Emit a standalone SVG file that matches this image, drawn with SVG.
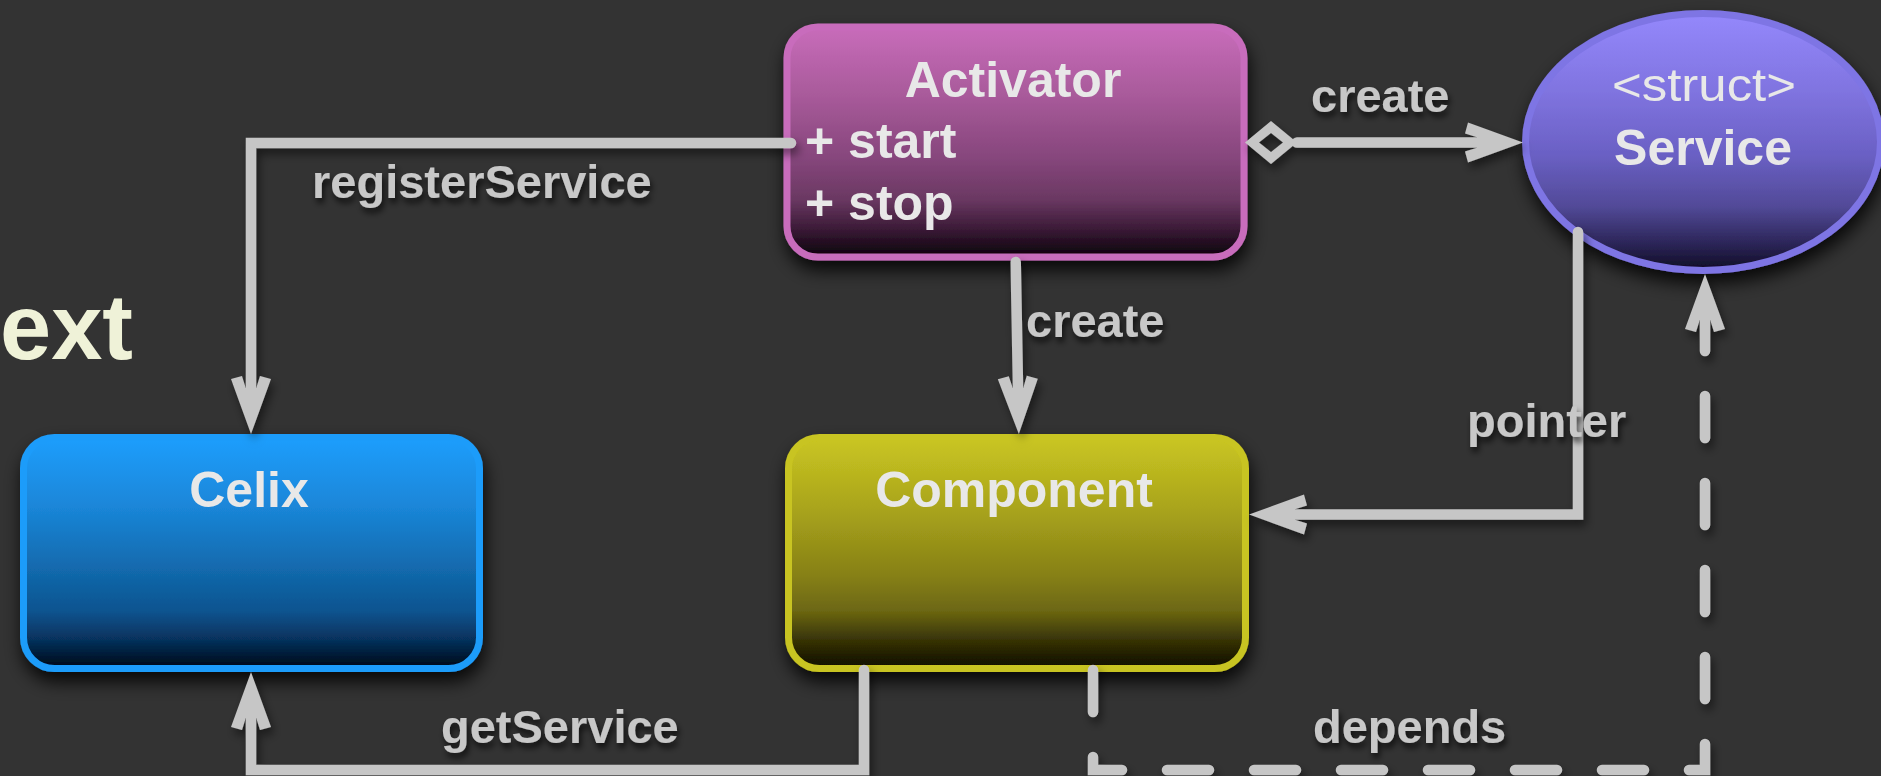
<svg xmlns="http://www.w3.org/2000/svg" width="1881" height="776" viewBox="0 0 1881 776">
<defs>
<style>
.t{font-family:"Liberation Sans",Arial,Helvetica,sans-serif;font-weight:bold;font-size:50px;fill:#e8e8e8;text-anchor:middle}
.m{font-family:"Liberation Sans",Arial,Helvetica,sans-serif;font-weight:bold;font-size:50px;fill:#e8e8e8}
.l{font-family:"Liberation Sans",Arial,Helvetica,sans-serif;font-weight:bold;font-size:47px;fill:#c8c8c8;filter:url(#textShadow)}
.c{fill:none;stroke:#c6c6c6;stroke-width:10.5;stroke-linecap:round;stroke-linejoin:miter}
.node{stroke-width:7}
</style>
<linearGradient id="gAct" x1="0" y1="0" x2="0" y2="1">
<stop offset="0" stop-color="#c86cba"/>
<stop offset="0.3" stop-color="#a85a9a"/>
<stop offset="0.57" stop-color="#86467c"/>
<stop offset="0.75" stop-color="#6a3862"/>
<stop offset="0.88" stop-color="#3a1a36"/>
<stop offset="1" stop-color="#0a000a"/>
</linearGradient>
<linearGradient id="gCel" x1="0" y1="0" x2="0" y2="1">
<stop offset="0" stop-color="#1f9efd"/>
<stop offset="0.3" stop-color="#1a86d8"/>
<stop offset="0.6" stop-color="#1166a8"/>
<stop offset="0.75" stop-color="#0d5490"/>
<stop offset="0.88" stop-color="#06305a"/>
<stop offset="1" stop-color="#000814"/>
</linearGradient>
<linearGradient id="gCom" x1="0" y1="0" x2="0" y2="1">
<stop offset="0" stop-color="#cac622"/>
<stop offset="0.3" stop-color="#aaa51c"/>
<stop offset="0.6" stop-color="#868016"/>
<stop offset="0.75" stop-color="#6c6712"/>
<stop offset="0.88" stop-color="#363206"/>
<stop offset="1" stop-color="#0e0c00"/>
</linearGradient>
<linearGradient id="gSrv" x1="0" y1="0" x2="0" y2="1">
<stop offset="0" stop-color="#9488fc"/>
<stop offset="0.3" stop-color="#8074e0"/>
<stop offset="0.55" stop-color="#6a60c4"/>
<stop offset="0.75" stop-color="#524a98"/>
<stop offset="0.9" stop-color="#2a2456"/>
<stop offset="1" stop-color="#100c24"/>
</linearGradient>
<filter id="nodeShadow" x="-15%" y="-15%" width="135%" height="145%">
<feDropShadow dx="2" dy="10" stdDeviation="9" flood-color="#000" flood-opacity="0.85"/>
</filter>
<filter id="lineShadow" x="-10%" y="-10%" width="125%" height="130%">
<feDropShadow dx="3" dy="6" stdDeviation="5" flood-color="#000" flood-opacity="0.5"/>
</filter>
<filter id="textShadow" x="-10%" y="-20%" width="125%" height="160%">
<feDropShadow dx="2" dy="5" stdDeviation="3" flood-color="#000" flood-opacity="0.7"/>
</filter>
<marker id="arrow" markerUnits="userSpaceOnUse" viewBox="-60 -23 62 46" refX="-46" refY="0" markerWidth="62" markerHeight="46" orient="auto">
<path d="M0,0 L-55,-20 L-58,-9 L-46,-5.25 L-46,5.25 L-58,9 L-55,20 Z" fill="#c6c6c6"/>
</marker>
<marker id="diamond" markerUnits="userSpaceOnUse" viewBox="-2 -24 56 48" refX="52" refY="0" markerWidth="56" markerHeight="48" orient="auto">
<path fill-rule="evenodd" d="M0,0 L26,-21.5 L52,0 L26,21.5 Z M14,0 L26,9.5 L38,0 L26,-9.5 Z" fill="#c6c6c6"/>
</marker>
</defs>
<rect x="0" y="0" width="1881" height="776" fill="#333333"/>
<text x="0" y="359" font-family="Liberation Sans, Arial, sans-serif" font-weight="bold" font-size="92" fill="#eff2d8">ext</text>

<g id="node-activator" filter="url(#nodeShadow)">
<rect class="node" x="787" y="27" width="457" height="230" rx="31" fill="url(#gAct)" stroke="#c86cbc"/>
<text class="t" x="1013" y="97">Activator</text>
<text class="m" x="805" y="158">+ start</text>
<text class="m" x="805" y="220">+ stop</text>
</g>
<g id="node-celix" filter="url(#nodeShadow)">
<rect class="node" x="23.5" y="437.5" width="456" height="231" rx="31" fill="url(#gCel)" stroke="#1e9cfa"/>
<text class="t" x="249" y="507">Celix</text>
</g>
<g id="node-component" filter="url(#nodeShadow)">
<rect class="node" x="788.5" y="437.5" width="457" height="231" rx="31" fill="url(#gCom)" stroke="#c8c420"/>
<text class="t" x="1014" y="507">Component</text>
</g>
<g id="node-service" filter="url(#nodeShadow)">
<ellipse class="node" cx="1703" cy="142" rx="177.5" ry="128.5" fill="url(#gSrv)" stroke="#7e74e4"/>
<text x="1704" y="101" font-family="Liberation Sans, Arial, sans-serif" font-size="46" fill="#e8e8e8" text-anchor="middle" textLength="184" lengthAdjust="spacingAndGlyphs">&lt;struct&gt;</text>
<text class="t" x="1703" y="165">Service</text>
</g>

<g id="connectors" filter="url(#lineShadow)">
<path class="c" d="M791,143 H251 V388" marker-end="url(#arrow)"/>
<path class="c" d="M1015.7,262 L1018,388" marker-end="url(#arrow)"/>
<path class="c" d="M1297,142.5 H1477" marker-start="url(#diamond)" marker-end="url(#arrow)"/>
<path class="c" d="M1578,232 V514.5 H1295" marker-end="url(#arrow)"/>
<path class="c" d="M864,670 V770 H251 V718" marker-end="url(#arrow)"/>
<path class="c" d="M1093,670 V770 H1705 V320" stroke-dasharray="42 45" marker-end="url(#arrow)"/>
</g>

<g id="labels">
<text class="l" x="312" y="198">registerService</text>
<text class="l" x="1311" y="111.5">create</text>
<text class="l" x="1026" y="336.5">create</text>
<text class="l" x="1467" y="437">pointer</text>
<text class="l" x="441" y="743">getService</text>
<text class="l" x="1313" y="743">depends</text>
</g>
</svg>
